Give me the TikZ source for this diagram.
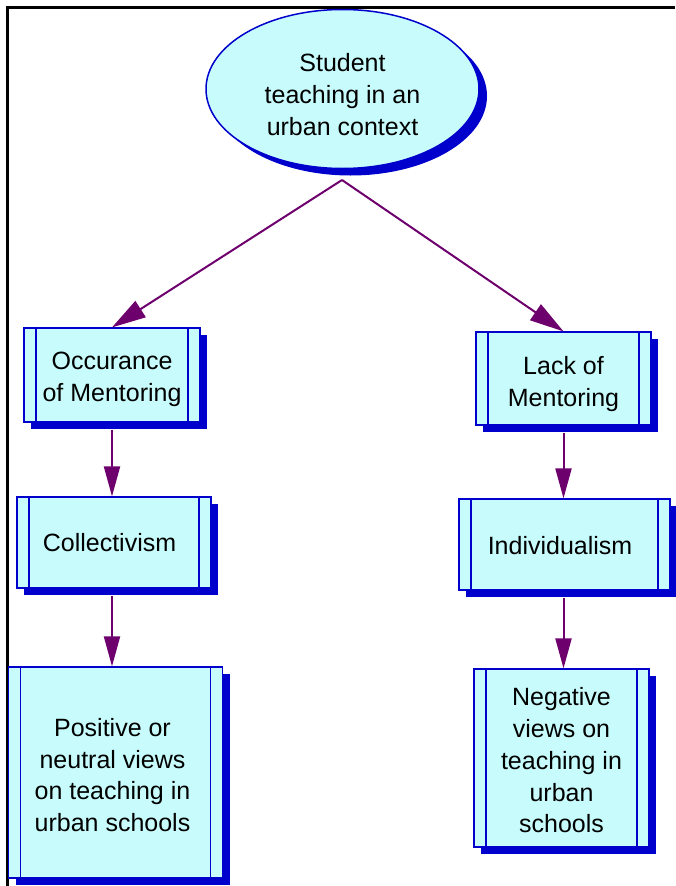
\documentclass[tikz,border=0pt]{standalone}
\usepackage{fontspec}
\setmainfont{Liberation Sans}
\usetikzlibrary{shapes.geometric,shadows,arrows.meta}
\definecolor{boxfill}{HTML}{C8FCFC}
\definecolor{boxblue}{HTML}{0000CC}
\definecolor{arrowpurple}{HTML}{6E006E}
\newcommand{\dtext}[2]{\raisebox{0pt}[\dimexpr\height+#1\relax][\depth]{\begin{tabular}{@{}c@{}}#2\end{tabular}}}
\begin{document}
\begin{tikzpicture}[x=1pt,y=-1pt,
  every node/.style={font=\fontsize{25}{31.7}\selectfont, align=center, inner sep=0pt},
  topnode/.style={ellipse, draw=boxblue, line width=1.5pt, fill=boxfill,
    minimum width=273pt, minimum height=159pt,
    drop shadow={shadow xshift=8pt, shadow yshift=-7pt, opacity=1, fill=boxblue, draw=none}},
  procbox/.style={rectangle, draw=boxblue, line width=1.2pt, fill=boxfill,
    drop shadow={shadow xshift=7pt, shadow yshift=-7pt, opacity=1, fill=boxblue, draw=none},
    path picture={\draw[boxblue, line width=1.2pt]
      ([xshift=12pt]path picture bounding box.north west) -- ([xshift=12pt]path picture bounding box.south west)
      ([xshift=-12pt]path picture bounding box.north east) -- ([xshift=-12pt]path picture bounding box.south east);}},
  conn/.style={draw=arrowpurple, line width=2pt, -{Triangle[length=30pt, width=16pt]}},
  bigconn/.style={draw=arrowpurple, line width=2pt, -{Triangle[length=34pt, width=19pt]}}
]
\useasboundingbox (0,0) rectangle (675,886);
\draw[line width=2.5pt] (7.5,886) -- (7.5,7.5) -- (675,7.5);

\node[topnode] (top) at (342.5,89) {\dtext{16pt}{Student\\teaching in an\\urban context}};
\coordinate (split) at (342,180);

\node[procbox, minimum width=176pt, minimum height=94pt] (occ) at (112,375) {\dtext{8pt}{Occurance\\of Mentoring}};
\node[procbox, minimum width=194pt, minimum height=91pt] (coll) at (114,542.5) {\dtext{6pt}{Collectivism}\hspace*{9pt}};
\node[procbox, minimum width=214pt, minimum height=211pt] (pos) at (115.5,772.5) {\dtext{10pt}{Positive or\\neutral views\\on teaching in\\urban schools}\hspace*{6pt}};

\node[procbox, minimum width=175pt, minimum height=93pt] (lack) at (563.5,378.5) {\dtext{11pt}{Lack of\\Mentoring}};
\node[procbox, minimum width=211pt, minimum height=91pt] (ind) at (564.5,544.5) {\dtext{8pt}{Individualism}\hspace*{9pt}};
\node[procbox, minimum width=175pt, minimum height=178pt] (neg) at (561.5,758) {\dtext{10pt}{Negative\\views on\\teaching in\\urban\\schools}};

\draw[bigconn] (split) -- (occ.north);
\draw[bigconn] (split) -- (lack.north);
\draw[conn] ([yshift=-7pt]occ.south) -- (occ.south |- coll.north);
\draw[conn] ([yshift=-7pt]occ.south |- coll.south) -- (occ.south |- pos.north);
\draw[conn] ([yshift=-7pt]lack.south) -- (lack.south |- ind.north);
\draw[conn] ([yshift=-7pt]lack.south |- ind.south) -- (lack.south |- neg.north);
\end{tikzpicture}
\end{document}
